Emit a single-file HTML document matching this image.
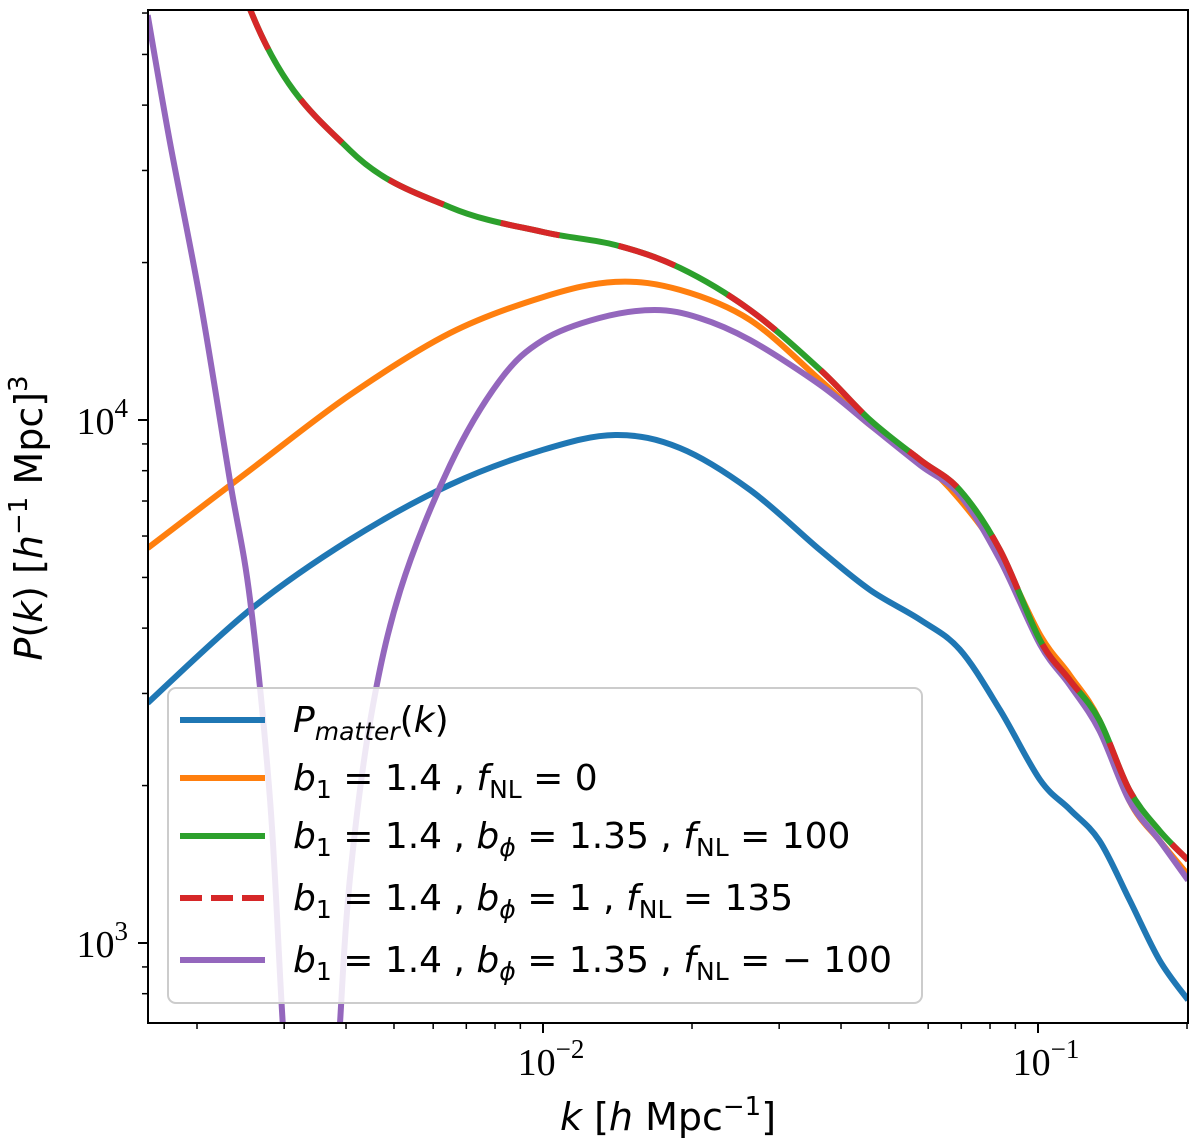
<!DOCTYPE html>
<html><head><meta charset="utf-8"><style>
body{margin:0;background:#fff}
svg text{font-family:"DejaVu Sans","Liberation Sans",sans-serif}
svg text.serif{font-family:"Liberation Serif",serif}
</style></head><body>
<svg id="chart" width="1200" height="1143" xmlns="http://www.w3.org/2000/svg">
<defs><clipPath id="clip"><rect x="148" y="10" width="1040" height="1013"/></clipPath></defs>
<g id="series" clip-path="url(#clip)"></g>
<rect x="148" y="10" width="1040" height="1013" fill="none" stroke="#000" stroke-width="2"/>
<g id="axes"></g>
<text x="668" y="1130" font-size="38" text-anchor="middle"><tspan font-style="italic">k</tspan> [<tspan font-style="italic">h</tspan> Mpc<tspan font-size="26" dy="-15">−1</tspan><tspan dy="15">]</tspan></text>
<text transform="translate(42,518) rotate(-90)" font-size="38" text-anchor="middle"><tspan font-style="italic">P</tspan>(<tspan font-style="italic">k</tspan>) [<tspan font-style="italic">h</tspan><tspan font-size="26" dy="-15">−1</tspan><tspan dy="15"> Mpc]</tspan><tspan font-size="26" dy="-15">3</tspan></text>
<g>
<rect x="168" y="688" width="754" height="315" rx="8" fill="#fff" fill-opacity="0.85" stroke="#ccc" stroke-width="2"/>
<g><line x1="180" y1="720" x2="265" y2="720" stroke="#1f77b4" stroke-width="6"/><text x="293" y="732" font-size="36"><tspan font-style="italic">P</tspan><tspan font-style="italic" font-size="25" dy="8">matter</tspan><tspan dy="-8">(</tspan><tspan font-style="italic">k</tspan>)</text></g>
<g><line x1="180" y1="778" x2="265" y2="778" stroke="#ff7f0e" stroke-width="6"/><text x="293" y="790" font-size="36"><tspan font-style="italic">b</tspan><tspan font-size="25" dy="8">1</tspan><tspan dy="-8"> = 1.4 ,  </tspan><tspan font-style="italic">f</tspan><tspan font-size="25" dy="8">NL</tspan><tspan dy="-8"> = 0</tspan></text></g>
<g><line x1="180" y1="836" x2="265" y2="836" stroke="#2ca02c" stroke-width="6"/><text x="293" y="848" font-size="36"><tspan font-style="italic">b</tspan><tspan font-size="25" dy="8">1</tspan><tspan dy="-8"> = 1.4 ,  </tspan><tspan font-style="italic">b</tspan><tspan font-style="italic" font-size="25" dy="8">ϕ</tspan><tspan dy="-8"> = 1.35 ,  </tspan><tspan font-style="italic">f</tspan><tspan font-size="25" dy="8">NL</tspan><tspan dy="-8"> = 100</tspan></text></g>
<g><line x1="180" y1="898" x2="265" y2="898" stroke="#d62728" stroke-width="6" stroke-dasharray="22,9"/><text x="293" y="910" font-size="36"><tspan font-style="italic">b</tspan><tspan font-size="25" dy="8">1</tspan><tspan dy="-8"> = 1.4 ,  </tspan><tspan font-style="italic">b</tspan><tspan font-style="italic" font-size="25" dy="8">ϕ</tspan><tspan dy="-8"> = 1 ,  </tspan><tspan font-style="italic">f</tspan><tspan font-size="25" dy="8">NL</tspan><tspan dy="-8"> = 135</tspan></text></g>
<g><line x1="180" y1="960" x2="265" y2="960" stroke="#9467bd" stroke-width="6"/><text x="293" y="972" font-size="36"><tspan font-style="italic">b</tspan><tspan font-size="25" dy="8">1</tspan><tspan dy="-8"> = 1.4 ,  </tspan><tspan font-style="italic">b</tspan><tspan font-style="italic" font-size="25" dy="8">ϕ</tspan><tspan dy="-8"> = 1.35 ,  </tspan><tspan font-style="italic">f</tspan><tspan font-size="25" dy="8">NL</tspan><tspan dy="-8"> = − 100</tspan></text></g>
</g>
</svg>
<script>
const kGrid=[0.00159,0.00256,0.00407,0.00649,0.01,0.0140,0.0189,0.0262,0.0363,0.0458,0.0578,0.0695,0.0838,0.101,0.116,0.133,0.153,0.176,0.201];
const pMatter=[2877,4335,5900,7520,8770,9360,8840,7350,5640,4730,4150,3640,2790,2050,1800,1570,1210,927,778];
const pFnl0=[5690,8020,11160,14660,17180,18370,17730,15530,11920,9780,8390,7040,5520,3880,3250,2670,1870,1570,1350];
const pFnl100=[300000,61000,32810,25520,22880,21610,19540,16230,12480,10000,8390,7350,5640,3790,3180,2670,1960,1640,1440];
const pFnl135=[300000,61000,32810,25520,22880,21610,19540,16230,12480,10000,8390,7350,5640,3790,3180,2670,1960,1640,1440];
const kPurpleLeft=[0.00159,0.00176,0.00203,0.00233,0.00256,0.00281,0.00298,0.00316];
const pPurpleLeft=[59430,34300,16950,7680,4530,1870,703,323];
const kPurpleRight=[0.00372,0.00389,0.00407,0.00448,0.00515,0.00649,0.00819,0.01,0.0130,0.0168,0.0207,0.0262,0.0363,0.0458,0.0578,0.0695,0.0838,0.101,0.116,0.133,0.153,0.176,0.201];
const pPurpleRight=[323,703,1318,2670,4730,8200,11920,14220,15670,16230,15670,14220,11670,9780,8200,7190,5400,3720,3110,2550,1870,1570,1318];
const xTickVals=[0.01,0.1];
const xTickLabels=["10","10"];
const xTickExps=["−2","−1"];
const yTickVals=[1000,10000];
const yTickLabels=["10","10"];
const yTickExps=["3","4"];

const NS="http://www.w3.org/2000/svg";
const xs=k=>543+(Math.log10(k)+2)*495;
const ys=p=>420-(Math.log10(p)-4)*523;
const series=document.getElementById('series');
const axes=document.getElementById('axes');
function path(ks,ps,color,name,dash){
  const p=document.createElementNS(NS,'path');
  const d=ks.map((k,i)=>[xs(k),ys(ps[i])]);
  let s='M'+d[0][0]+','+d[0][1];
  for(let i=0;i<d.length-1;i++){
    const p0=d[i-1]||d[i],p1=d[i],p2=d[i+1],p3=d[i+2]||d[i+1];
    s+=' C'+(p1[0]+(p2[0]-p0[0])/6)+','+(p1[1]+(p2[1]-p0[1])/6)+' '+(p2[0]-(p3[0]-p1[0])/6)+','+(p2[1]-(p3[1]-p1[1])/6)+' '+p2[0]+','+p2[1];
  }
  p.setAttribute('d',s);p.setAttribute('fill','none');p.setAttribute('stroke',color);p.setAttribute('stroke-width','6');
  if(dash)p.setAttribute('stroke-dasharray',dash);
  
  
  series.appendChild(p);
}
path(kGrid,pMatter,'#1f77b4','line-matter');
path(kGrid,pFnl0,'#ff7f0e','line-fnl0');
path(kPurpleLeft,pPurpleLeft,'#9467bd','line-fnl-minus100-left');
path(kPurpleRight,pPurpleRight,'#9467bd','line-fnl-minus100-right');
path(kGrid,pFnl100,'#2ca02c','line-fnl100');
path(kGrid,pFnl135,'#d62728','line-fnl135','60,60');

function ln(x1,y1,x2,y2,w,name){
  const l=document.createElementNS(NS,'line');
  l.setAttribute('x1',x1);l.setAttribute('y1',y1);l.setAttribute('x2',x2);l.setAttribute('y2',y2);
  l.setAttribute('stroke','#000');l.setAttribute('stroke-width',w);
  
  
  axes.appendChild(l);
}
function lbl(x,y,base,exp,anchor,name){
  const t=document.createElementNS(NS,'text');
  t.setAttribute('x',x);t.setAttribute('y',y);t.setAttribute('font-size','38');t.setAttribute('text-anchor',anchor);
  t.setAttribute('class','serif');
  t.innerHTML=base+'<tspan font-size="27" dy="-17">'+exp+'</tspan>';
  
  
  axes.appendChild(t);
}
xTickVals.forEach((v,i)=>{const x=xs(v);ln(x,1023,x,1033,2,'x-major-tick');lbl(x+8,1075,xTickLabels[i],xTickExps[i],'middle','x-tick-label');});
yTickVals.forEach((v,i)=>{const y=ys(v);ln(138,y,148,y,2,'y-major-tick');lbl(128,y+14,yTickLabels[i],yTickExps[i],'end','y-tick-label');});
for(let e=-3;e<=-1;e++)for(let m=2;m<=9;m++){const k=m*Math.pow(10,e);const x=xs(k);if(x>148&&x<1188)ln(x,1023,x,1029,1.5,'x-minor-tick');}
for(let e=2;e<=4;e++)for(let m=2;m<=9;m++){const p=m*Math.pow(10,e);const y=ys(p);if(y>10&&y<1023)ln(142,y,148,y,1.5,'y-minor-tick');}
</script>
</body></html>
